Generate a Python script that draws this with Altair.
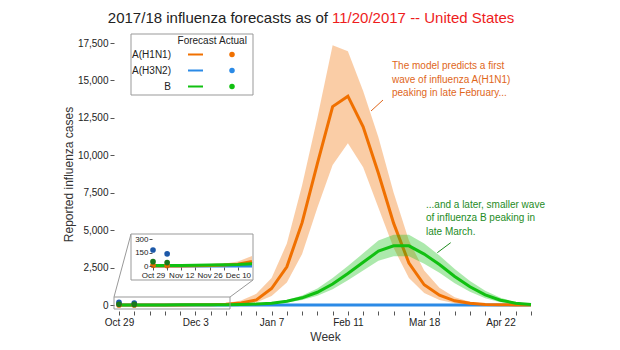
import altair as alt
import pandas as pd

# ---------------- data ----------------
weeks = ["2017-10-29", "2017-11-05", "2017-11-12", "2017-11-19", "2017-11-26",
         "2017-12-03", "2017-12-10", "2017-12-17", "2017-12-24", "2017-12-31",
         "2018-01-07", "2018-01-14", "2018-01-21", "2018-01-28", "2018-02-04",
         "2018-02-11", "2018-02-18", "2018-02-25", "2018-03-04", "2018-03-11",
         "2018-03-18", "2018-03-25", "2018-04-01", "2018-04-08", "2018-04-15",
         "2018-04-22", "2018-04-29", "2018-05-06"]

series = ["A(H1N1)", "A(H3N2)", "B"]

h1n1_mid = [0, 0, 1, 2, 5, 10, 20, 50, 130, 340, 1100, 2550, 5500, 9450, 13250,
            13950, 11900, 8800, 5450, 2800, 1350, 650, 280, 110, 40, 15, 5, 2]
h1n1_hi = [2, 3, 5, 8, 12, 25, 50, 110, 300, 750, 1800, 4100, 8000, 12500, 17350,
           16950, 14300, 11200, 7500, 4300, 2300, 1150, 520, 220, 90, 35, 12, 5]
h1n1_lo = [0, 0, 0, 1, 2, 4, 8, 20, 60, 170, 600, 1500, 3400, 6500, 9350,
           10800, 9200, 6500, 3800, 1800, 800, 330, 120, 40, 15, 5, 1, 0]

h3n2_mid = [0, 0, 0, 0, 0, 0, 0, 0, 0, 0, 0, 0, 0, 0, 0,
            0, 0, 0, 0, 0, 0, 0, 0, 0, 0, 0, 0, 0]

b_mid = [5, 5, 6, 8, 10, 13, 17, 25, 35, 60, 120, 250, 480, 850, 1400,
         2100, 2850, 3600, 3950, 3950, 3400, 2700, 1900, 1220, 680, 320, 120, 40]
b_hi = [8, 8, 9, 12, 15, 19, 25, 36, 50, 90, 170, 340, 640, 1100, 1800,
        2600, 3450, 4300, 4700, 4700, 4100, 3300, 2400, 1600, 950, 480, 190, 70]
b_lo = [2, 2, 3, 5, 6, 8, 11, 16, 23, 40, 80, 170, 330, 620, 1050,
        1650, 2300, 2950, 3250, 3250, 2750, 2150, 1450, 880, 450, 190, 60, 15]

actual_weeks = ["2017-10-29", "2017-11-05"]
h1n1_act = [8, 5]
h3n2_act = [178, 135]
b_act = [48, 38]

y_ticks = [0, 2500, 5000, 7500, 10000, 12500, 15000, 17500]
x_labels = ["Oct 29", "Dec 3", "Jan 7", "Feb 11", "Mar 18", "Apr 22"]
inset_weeks = weeks[:7]
inset_labels = ["Oct 29", "Nov 12", "Nov 26", "Dec 10"]
inset_y_ticks = [0, 150, 300]
inset_end = "2017-12-17"

line_colors = ["#f07000", "#2b8ae6", "#11c011"]
point_colors = ["#e06a00", "#1c58a8", "#1a7a1a"]

title_black = "2017/18 influenza forecasts as of"
title_red = "11/20/2017 -- United States"
note_h1n1 = ["The model predicts a first", "wave of influenza A(H1N1)", "peaking in late February..."]
note_b = ["...and a later, smaller wave", "of influenza B peaking in", "late March."]

FONT = "Liberation Sans"

# ---------------- tables ----------------
rows = []
for s, mid, lo, hi in [(series[0], h1n1_mid, h1n1_lo, h1n1_hi),
                       (series[1], h3n2_mid, h3n2_mid, h3n2_mid),
                       (series[2], b_mid, b_lo, b_hi)]:
    for w, m, l, h in zip(weeks, mid, lo, hi):
        rows.append({"week": pd.Timestamp(w), "series": s, "mid": m, "lo": l, "hi": h})
fc = pd.DataFrame(rows)

arows = []
for s, vals, pc in zip(series, [h1n1_act, h3n2_act, b_act], point_colors):
    for w, v in zip(actual_weeks, vals):
        arows.append({"week": pd.Timestamp(w), "series": s, "value": v, "pcolor": pc})
act = pd.DataFrame(arows)

fc_in = fc[fc["week"] <= pd.Timestamp(inset_end)]
one = pd.DataFrame({"k": [0]})


def dt(s, hours=0):
    t = pd.Timestamp(s)
    return alt.DateTime(year=t.year, month=t.month, date=t.day, hours=hours)


def label_expr(labels):
    arr = "[" + ",".join("'" + l + "'" for l in labels) + "]"
    return ("indexof(" + arr + ", timeFormat(datum.value, '%b %-d')) >= 0 ? "
            "timeFormat(datum.value, '%b %-d') : ''")


color_scale = alt.Scale(domain=series, range=line_colors)

# ---------------- main scales / axes ----------------
x_axis_main = alt.Axis(values=[dt(w) for w in weeks], labelExpr=label_expr(x_labels),
                       title="Week", grid=False, domain=False, tickSize=4, tickColor="#555",
                       labelFontSize=10, labelColor="#222", labelPadding=2,
                       labelOverlap=False, labelFlush=False,
                       titleFontSize=12, titleFontWeight="normal", titleColor="#333",
                       titlePadding=4, offset=6)
x_scale_main = alt.Scale(domain=[dt("2017-10-26", 17), dt("2018-05-08", 7)])
y_axis_main = alt.Axis(values=y_ticks, format=",.0f", grid=False, domain=False, tickSize=4,
                       tickColor="#555", labelFontSize=10, labelColor="#222", labelPadding=2,
                       labelOverlap=False,
                       title="Reported influenza cases", titleFontSize=12,
                       titleFontWeight="normal", titleColor="#333", titlePadding=2)
y_scale_main = alt.Scale(domain=[0, 17500], nice=False)

# ---------------- inset scales / axes ----------------
x_axis_in = alt.Axis(values=[dt(w) for w in inset_weeks], labelExpr=label_expr(inset_labels),
                     orient="bottom", offset=-38, title=None, grid=False, domain=False,
                     tickSize=3, tickColor="#555", labelFontSize=8, labelColor="#222",
                     labelPadding=1, labelOverlap=False, labelFlush=False, zindex=2)
x_scale_in = alt.Scale(domain=[dt(weeks[0]), dt(inset_end)], range=[39, 138])
y_axis_in = alt.Axis(values=inset_y_ticks, format=",.0f", orient="left", offset=-38,
                     title=None, grid=False, domain=False, tickSize=3, tickColor="#555",
                     labelFontSize=8, labelColor="#222", labelPadding=1,
                     labelOverlap=False, zindex=2)
y_scale_in = alt.Scale(domain=[0, 300], range=[223, 196], nice=False, zero=False)


def xenc(sc, ax):
    return alt.X("week:T", scale=sc, axis=ax)


def band(data, s, xs, ys):
    return alt.Chart(data).transform_filter(alt.datum.series == s).mark_area(opacity=0.35).encode(
        x=xenc(xs, None),
        y=alt.Y("lo:Q", scale=ys, axis=None),
        y2="hi:Q",
        color=alt.Color("series:N", scale=color_scale, legend=None),
    )


def line(data, s, xs, ys, xa=None, ya=None, sw=3):
    return alt.Chart(data).transform_filter(alt.datum.series == s).mark_line(strokeWidth=sw).encode(
        x=xenc(xs, xa),
        y=alt.Y("mid:Q", scale=ys, axis=ya),
        color=alt.Color("series:N", scale=color_scale, legend=None),
    )


def points(xs, ys):
    return alt.Chart(act).mark_circle(size=32, opacity=1).encode(
        x=xenc(xs, None),
        y=alt.Y("value:Q", scale=ys, axis=None),
        color=alt.Color("pcolor:N", scale=None),
    )


main = [
    line(fc, series[1], x_scale_main, y_scale_main, x_axis_main, y_axis_main),
    band(fc, series[0], x_scale_main, y_scale_main),
    line(fc, series[0], x_scale_main, y_scale_main),
    band(fc, series[2], x_scale_main, y_scale_main),
    line(fc, series[2], x_scale_main, y_scale_main),
    points(x_scale_main, y_scale_main),
]

inset = [
    line(fc_in, series[1], x_scale_in, y_scale_in, x_axis_in, y_axis_in),
    band(fc_in, series[0], x_scale_in, y_scale_in),
    line(fc_in, series[0], x_scale_in, y_scale_in),
    band(fc_in, series[2], x_scale_in, y_scale_in),
    line(fc_in, series[2], x_scale_in, y_scale_in),
    points(x_scale_in, y_scale_in),
]


# ---------------- decorations ----------------
def box(x1, y1, x2, y2, fill):
    kw = dict(stroke="#999", strokeWidth=1)
    if fill:
        kw["fill"] = "white"
    else:
        kw["fillOpacity"] = 0
    return alt.Chart(one).mark_rect(**kw).encode(
        x=alt.value(x1), x2=alt.value(x2), y=alt.value(y1), y2=alt.value(y2))


def seg(x1, y1, x2, y2, color, sw=1):
    return alt.Chart(one).mark_rule(color=color, strokeWidth=sw).encode(
        x=alt.value(x1), x2=alt.value(x2), y=alt.value(y1), y2=alt.value(y2))


def txt(s, x, y, color="#222", size=10, align="left"):
    return alt.Chart(one).mark_text(align=align, baseline="middle", fontSize=size,
                                    color=color, font=FONT).encode(
        x=alt.value(x), y=alt.value(y), text=alt.value(s))


def dot(x, y, color):
    return alt.Chart(one).mark_circle(size=30, opacity=1, color=color).encode(
        x=alt.value(x), y=alt.value(y))


decor_mid = [
    box(0, 254, 116, 266, False),
    seg(0, 254, 17, 191, "#999"),
    seg(116, 254, 139, 237, "#999"),
    box(17, 191, 139, 237, True),
]

legend = [box(17, -9, 139, 52, True),
          txt("Forecast", 83, -2, align="center"),
          txt("Actual", 119, -2, align="center")]
row_y = [11.5, 27.5, 43.5]
for s, c, ry in zip(series, line_colors, row_y):
    legend += [txt(s, 57, ry, align="right"), seg(74, ry, 89, ry, c, 2), dot(118, ry, c)]

notes = []
for i, l in enumerate(note_h1n1):
    notes.append(txt(l, 278, 23 + 13.6 * i, color="#e0661a"))
notes.append(seg(269, 57, 257, 68, "#e0661a"))
for i, l in enumerate(note_b):
    notes.append(txt(l, 312, 162 + 13.4 * i, color="#1e8c1e"))
notes.append(seg(336.7, 199.7, 323.3, 209.7, "#1e8c1e"))

titles = [txt(title_black, 214, -25, color="#222", size=15, align="right"),
          txt(title_red, 218, -25, color="#ee1c1c", size=15, align="left")]

chart = alt.layer(*main, *decor_mid, *inset, *legend, *notes, *titles).resolve_scale(
    x="independent", y="independent"
).properties(
    width=422, height=262,
    autosize=alt.AutoSizeParams(type="none"),
    padding={"left": 114, "top": 43, "right": 84, "bottom": 45},
).configure(font=FONT, view=alt.ViewConfig(stroke=None))

chart.save("out.html", embed_options={"renderer": "svg", "actions": False})
